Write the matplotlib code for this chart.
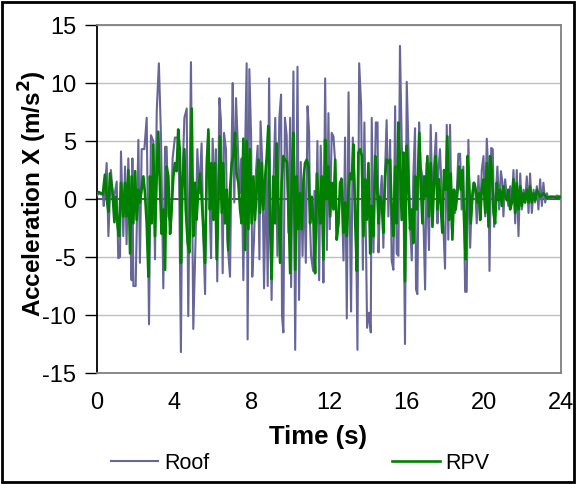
import matplotlib
matplotlib.use('Agg')
import matplotlib.pyplot as plt
from matplotlib.patches import Rectangle

plt.rcParams['font.family'] = ['Liberation Sans', 'DejaVu Sans']
plt.rcParams['axes.unicode_minus'] = False

# Roof acceleration, time in s / acceleration in m/s2
roof_t = [0, 0.1, 0.2, 0.3, 0.35, 0.5, 0.59, 0.72, 0.84, 1.02,
          1.10, 1.19, 1.24, 1.36, 1.45, 1.53, 1.62, 1.71, 1.79, 1.83,
          1.88, 2.0, 2.14, 2.22, 2.31, 2.45, 2.57, 2.69, 2.79, 2.91,
          3.0, 3.09, 3.2, 3.31, 3.43, 3.52, 3.6, 3.69, 3.83, 3.91,
          4.03, 4.17, 4.24, 4.34, 4.41, 4.52, 4.64, 4.72, 4.86, 4.98,
          5.12, 5.19, 5.29, 5.41, 5.5, 5.59, 5.67, 5.76, 5.84, 5.9,
          5.98, 6.1, 6.15, 6.22, 6.33, 6.41, 6.5, 6.57, 6.67, 6.74,
          6.88, 6.97, 7.02, 7.1, 7.19, 7.31, 7.4, 7.48, 7.57, 7.65,
          7.74, 7.79, 7.88, 7.97, 8.03, 8.12, 8.22, 8.31, 8.4, 8.46,
          8.55, 8.64, 8.74, 8.83, 8.9, 8.98, 9.03, 9.12, 9.22, 9.33,
          9.43, 9.52, 9.57, 9.64, 9.72, 9.81, 9.9, 9.99, 10.04, 10.16,
          10.25, 10.37, 10.45, 10.54, 10.63, 10.71, 10.8, 10.89, 10.97, 11.02,
          11.07, 11.18, 11.25, 11.33, 11.4, 11.49, 11.57, 11.66, 11.71, 11.8,
          11.89, 11.97, 12.04, 12.14, 12.23, 12.32, 12.4, 12.52, 12.63, 12.75,
          12.83, 12.92, 13.01, 13.09, 13.14, 13.23, 13.32, 13.4, 13.47, 13.56,
          13.66, 13.75, 13.83, 13.92, 13.97, 14.07, 14.16, 14.21, 14.3, 14.42,
          14.51, 14.56, 14.64, 14.73, 14.81, 14.9, 14.98, 15.07, 15.16, 15.24,
          15.33, 15.42, 15.5, 15.59, 15.67, 15.76, 15.85, 15.93, 16.02, 16.11,
          16.19, 16.28, 16.36, 16.45, 16.5, 16.57, 16.66, 16.74, 16.83, 16.88,
          16.97, 17.05, 17.17, 17.26, 17.36, 17.43, 17.54, 17.61, 17.66, 17.74,
          17.83, 17.92, 18.0, 18.09, 18.17, 18.26, 18.35, 18.43, 18.52, 18.6,
          18.69, 18.78, 18.86, 18.95, 19.04, 19.12, 19.21, 19.3, 19.39, 19.47,
          19.56, 19.64, 19.73, 19.82, 19.9, 19.99, 20.08, 20.16, 20.25, 20.3,
          20.39, 20.47, 20.54, 20.64, 20.71, 20.8, 20.89, 20.97, 21.02, 21.11,
          21.2, 21.28, 21.37, 21.46, 21.54, 21.63, 21.71, 21.8, 21.89, 21.97,
          22.06, 22.14, 22.23, 22.32, 22.4, 22.49, 22.58, 22.66, 22.75, 22.83,
          22.92, 23.01, 23.09, 23.18, 23.27, 23.35, 23.44, 23.61, 23.78, 23.96,
          24.0]
roof_acc = [0.3, 0.5, 0.4, 0.5, -0.6, 3.1, -3.2, 2.5, -0.3, 1.5,
            -5.1, -5.0, 4.1, -3.2, 2.8, -3.9, 3.5, -2.4, -7.0, 3.5,
            -7.5, -7.5, 5.1, -5.5, 4.3, 4.3, 7.0, -10.8, 5.5, 5.0,
            -5.2, 7.6, 11.7, 5.4, -7.7, 4.5, 4.5, -1.5, -2.1, 3.5,
            5.3, 5.3, 3.1, -13.2, 1.4, 7.0, 7.8, -10.1, 11.8, -11.2,
            -2.0, 4.3, 0.5, 4.8, -3.2, -8.2, 3.5, 5.7, -1.5, -5.1,
            5.2, -0.9, 4.3, -7.1, 8.7, 6.8, -6.4, 5.7, 4.3, -3.5,
            -6.7, 5.1, 10.0, -0.3, 8.7, 3.5, 0.5, 3.5, -7.0, 3.0,
            11.7, -12.1, 11.2, 5.4, -6.7, -3.5, 2.3, 4.6, -5.2, 6.7,
            3.0, -7.7, 3.0, -7.5, 10.4, -2.0, -8.7, 1.1, 7.0, -4.9,
            7.0, 9.0, -10.1, -11.5, 7.0, 5.5, -2.9, 7.0, -7.6, 11.0,
            -13.0, 11.4, -8.7, 3.2, -4.9, 2.2, -5.5, 8.0, 5.7, -2.1,
            -4.9, -6.2, 0.7, -3.5, 5.0, -7.0, 4.6, -1.2, -7.2, 10.4,
            -4.4, 7.4, -2.6, 5.7, 5.4, 3.1, -3.5, -0.9, 1.8, -5.3,
            5.3, -10.3, 9.2, -3.2, -9.7, 5.3, 1.4, -2.6, -13.0, 11.7,
            8.1, -6.1, 6.6, -5.2, -11.1, -9.8, -11.5, 7.0, -4.6, 6.6,
            6.6, -4.6, 0.0, 2.0, -4.2, 2.5, 6.8, -1.5, 5.1, -5.3,
            -6.1, 8.0, -4.7, -4.9, 13.2, 4.9, 0.8, -12.5, 10.1, 4.3,
            -2.1, -5.3, 1.95, 6.1, -7.8, -8.2, 6.6, 2.8, 1.95, -1.5,
            -7.8, 3.1, -4.4, 6.4, -1.5, 2.8, 5.7, -2.1, 2.5, 4.3,
            0.5, -2.6, -6.0, 6.4, -3.5, 6.4, -2.6, 0.8, -1.2, 0.2,
            3.9, 3.9, -0.9, 2.8, -8.0, -8.0, 5.1, -4.2, 0.2, 1.4,
            1.2, -2.1, 2.0, -1.8, 2.5, 3.7, -1.5, 5.2, 1.95, -6.2,
            4.4, 4.3, -2.4, 0.8, 2.8, -0.9, 2.4, 1.4, -1.5, 1.7,
            0.2, -0.6, 1.1, -0.3, 2.5, -2.1, 2.5, -3.2, 2.2, -0.9,
            0.8, -0.3, 1.95, -1.2, 2.2, -1.2, 0.8, -0.3, 1.1, -0.9,
            1.7, -0.6, 1.4, -0.3, 0.5, 0.0, 0.2, 0.1, 0.3, 0.2,
            0.1]

# RPV acceleration
rpv_t = [0, 0.1, 0.2, 0.3, 0.41, 0.5, 0.59, 0.67, 0.79, 0.9,
         0.97, 1.07, 1.14, 1.24, 1.36, 1.45, 1.53, 1.62, 1.71, 1.79,
         1.88, 1.97, 2.05, 2.14, 2.22, 2.4, 2.48, 2.57, 2.66, 2.74,
         2.83, 2.91, 3.0, 3.09, 3.17, 3.26, 3.34, 3.43, 3.52, 3.6,
         3.69, 3.78, 3.86, 3.95, 4.03, 4.12, 4.2, 4.29, 4.34, 4.41,
         4.52, 4.59, 4.69, 4.78, 4.9, 4.98, 5.07, 5.15, 5.24, 5.33,
         5.41, 5.5, 5.59, 5.67, 5.76, 5.84, 5.93, 6.02, 6.1, 6.19,
         6.28, 6.36, 6.45, 6.53, 6.62, 6.71, 6.79, 6.88, 6.97, 7.05,
         7.14, 7.22, 7.31, 7.4, 7.48, 7.57, 7.66, 7.74, 7.83, 7.91,
         8.0, 8.09, 8.17, 8.26, 8.34, 8.43, 8.52, 8.6, 8.69, 8.78,
         8.86, 8.95, 9.03, 9.12, 9.21, 9.29, 9.38, 9.47, 9.55, 9.64,
         9.72, 9.82, 9.9, 9.99, 10.07, 10.16, 10.25, 10.33, 10.42, 10.51,
         10.59, 10.68, 10.76, 10.85, 10.94, 11.02, 11.11, 11.2, 11.28, 11.37,
         11.45, 11.54, 11.63, 11.71, 11.8, 11.89, 11.97, 12.06, 12.14, 12.23,
         12.32, 12.4, 12.49, 12.57, 12.66, 12.75, 12.83, 12.92, 13.01, 13.09,
         13.18, 13.26, 13.35, 13.44, 13.52, 13.61, 13.7, 13.78, 13.87, 13.95,
         14.04, 14.13, 14.21, 14.3, 14.39, 14.47, 14.56, 14.64, 14.73, 14.81,
         14.9, 14.98, 15.07, 15.16, 15.24, 15.33, 15.42, 15.5, 15.59, 15.67,
         15.76, 15.85, 15.93, 16.02, 16.11, 16.19, 16.28, 16.36, 16.45, 16.54,
         16.62, 16.67, 16.74, 16.83, 16.92, 17.0, 17.09, 17.17, 17.26, 17.35,
         17.43, 17.52, 17.61, 17.69, 17.78, 17.86, 17.95, 18.04, 18.12, 18.21,
         18.3, 18.38, 18.47, 18.55, 18.64, 18.73, 18.81, 18.9, 18.99, 19.07,
         19.16, 19.24, 19.33, 19.42, 19.5, 19.59, 19.67, 19.76, 19.82, 19.9,
         19.99, 20.08, 20.16, 20.25, 20.33, 20.42, 20.51, 20.59, 20.68, 20.77,
         20.85, 20.94, 21.02, 21.11, 21.2, 21.28, 21.37, 21.46, 21.54, 21.63,
         21.71, 21.8, 21.89, 21.97, 22.06, 22.14, 22.23, 22.32, 22.4, 22.49,
         22.58, 22.66, 22.75, 22.92, 23.09, 23.27, 23.44, 23.61, 23.78, 23.96,
         24.0]
rpv_acc = [0.5, 0.6, 0.5, 0.4, 2.1, 0.1, -1.1, 2.2, 0.8, -2.0,
           0.2, -2.4, -3.2, 1.4, -1.5, 1.4, -1.5, 2.5, -4.7, 1.95,
           -2.1, 2.4, -1.8, 0.8, -0.3, 1.95, 0.5, -2.1, -6.7, 1.95,
           -2.1, 4.7, -3.2, 1.95, 5.8, 0.8, -3.0, -0.9, -6.1, 2.8,
           1.95, -3.0, -0.9, 1.95, 3.1, 2.4, 6.0, 4.0, -5.5, 0.8,
           4.3, -0.9, -3.8, -4.6, 7.8, -3.2, 1.4, -1.8, 0.8, 2.2,
           0.2, -2.6, -5.5, 1.95, 6.0, -0.9, 3.1, -1.8, 3.1, -5.2,
           -0.3, 5.4, -1.2, 3.1, -2.1, 0.8, -4.4, 0.8, 3.1, 3.7,
           5.7, 2.2, 1.4, -0.9, -2.1, 5.2, -4.4, 5.0, -2.6, 4.3,
           -2.1, 1.95, -1.8, 0.8, 3.4, -1.2, 3.1, -0.9, 1.7, 3.7,
           6.3, -2.1, -6.9, 1.95, -2.1, 4.8, -0.3, -5.5, 1.4, 3.7,
           3.4, 3.2, -0.3, -6.4, 1.4, 5.7, -6.1, 1.95, -2.6, 0.5,
           -2.6, 1.7, 3.1, 3.4, 2.8, -2.1, 0.2, -2.1, -6.4, 2.2,
           0.2, -2.1, 1.95, -5.2, 5.1, 0.0, 2.8, -1.5, 1.4, -0.9,
           3.4, -3.5, -2.1, 1.4, 1.7, -2.9, -0.3, -3.2, 0.8, 2.2,
           1.7, 4.7, -1.8, -6.2, 4.0, 4.3, 3.7, -3.2, 1.7, -1.8,
           3.1, -4.7, -0.6, -3.2, 3.7, 1.7, -2.1, 0.2, -0.3, -2.9,
           1.95, 3.4, 3.1, 3.4, -0.9, -3.2, 2.8, -2.1, 6.6, 3.4,
           -1.8, 4.0, -7.1, 4.6, 1.4, -2.6, -0.9, -3.8, 1.95, -0.9,
           3.1, 5.7, 1.7, -2.1, 1.95, 0.2, 3.7, -1.5, 3.1, -2.4,
           1.4, 3.7, -0.9, 1.7, -0.6, -2.9, 2.5, 0.8, 5.4, -1.8,
           2.2, -3.5, 0.8, -0.9, 0.5, 2.8, 0.8, 2.5, -2.1, -5.2,
           3.7, 1.7, -2.1, 0.2, 1.4, 0.8, -0.3, 0.5, -1.8, 0.8,
           1.7, -1.2, 3.1, -2.4, 3.7, 2.5, -1.2, -2.1, 1.4, -0.1,
           0.8, -0.6, 1.1, 0.2, -0.1, 0.8, -0.9, -0.3, 1.7, -1.2,
           1.4, -0.9, 1.1, -0.6, 0.5, -0.3, 0.8, -0.3, 1.1, -0.3,
           0.5, -0.1, 0.8, 0.2, 0.5, 0.1, 0.2, 0.2, 0.1, 0.2,
           0.2]

xticks = [0, 4, 8, 12, 16, 20, 24]
yticks = [-15, -10, -5, 0, 5, 10, 15]

fig = plt.figure(figsize=(5.76, 4.84), dpi=100)
ax = fig.add_axes([0.1684, 0.2293, 0.8056, 0.719])

ax.plot(roof_t, roof_acc, color='#666699', lw=1.5, label='Roof', zorder=3)
ax.plot(rpv_t, rpv_acc, color='#008000', lw=1.9, label='RPV', zorder=4)
ax.axhline(0, color='#404040', lw=1.2, zorder=2)

ax.set_xlim(0, 24)
ax.set_ylim(-15, 15)
ax.set_xticks(xticks)
ax.set_yticks(yticks)
ax.grid(axis='y', color='#c0c0c0', lw=1)
ax.set_axisbelow(True)
ax.tick_params(axis='y', length=9, width=1, direction='out', labelsize=17, pad=6)
ax.tick_params(axis='x', length=0, labelsize=17, pad=14)

ax.spines['left'].set_color('black')
ax.spines['left'].set_linewidth(1.3)
for s in ['top', 'right', 'bottom']:
    ax.spines[s].set_color('#808080')
    ax.spines[s].set_linewidth(1.3)

fig.text(0.552, 1 - 437 / 484, 'Time (s)', ha='center', va='center',
         fontsize=18.5, fontweight='bold')
fig.text(0.057, 1 - 194 / 484, 'Acceleration X (m/s$^\\mathbf{2}$)', ha='center',
         va='center', rotation=90, fontsize=17.5, fontweight='bold')

fig.legend(loc='center', bbox_to_anchor=(0.521, 0.043), ncol=2, frameon=False,
           fontsize=15.5, handlelength=2.2, columnspacing=8.5, handletextpad=0.28)

fig.patches.append(Rectangle((0.003, 0.004), 0.994, 0.992, transform=fig.transFigure,
                             fill=False, lw=2, ec='black'))

fig.savefig('out.png', dpi=100)
